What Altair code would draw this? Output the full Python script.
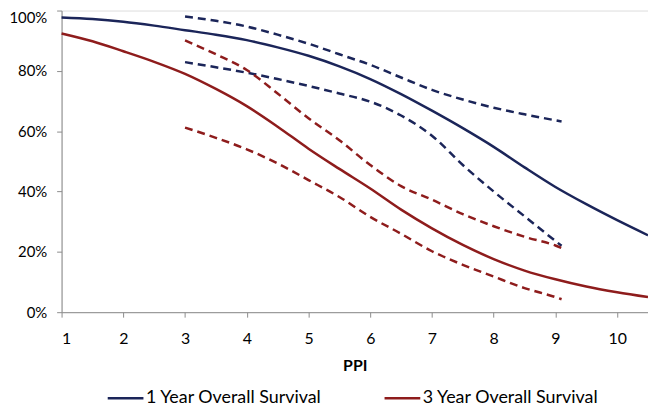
import altair as alt
import pandas as pd

# ---- data ----
series_names = ["1 Year Overall Survival", "3 Year Overall Survival"]

ppi_main = [1, 1.5, 2, 2.5, 3, 3.5, 4, 4.5, 5, 5.5, 6, 6.5, 7, 7.5, 8, 8.5, 9, 9.5, 10, 10.5]
os1_main = [97.7, 97.2, 96.3, 95.0, 93.5, 92.0, 90.2, 87.8, 85.0, 81.5, 77.3, 72.3,
            66.8, 61.0, 54.8, 48.0, 41.5, 35.8, 30.5, 25.5]
os3_main = [92.4, 89.8, 86.5, 83.0, 79.0, 74.0, 68.3, 61.5, 54.2, 47.5, 41.0, 34.0,
            27.8, 22.3, 17.6, 13.8, 10.9, 8.5, 6.6, 5.0]

ppi_ci = [3, 3.5, 4, 4.5, 5, 5.5, 6, 6.5, 7, 7.5, 8, 8.5, 9, 9.1]
os1_upper = [98.0, 96.6, 94.7, 92.0, 89.0, 85.5, 82.0, 77.8, 73.7, 70.5, 67.8, 65.6, 63.6, 63.2]
os1_lower = [82.9, 81.2, 79.4, 77.3, 75.0, 72.5, 69.8, 65.2, 58.5, 48.8, 40.0, 31.8, 23.6, 22.0]
os3_upper = [90.1, 85.5, 80.3, 72.5, 64.3, 57.0, 48.8, 41.8, 37.3, 32.5, 28.5, 25.0, 22.1, 21.3]
os3_lower = [61.2, 57.8, 54.0, 49.3, 43.8, 38.2, 31.6, 26.0, 20.2, 15.7, 11.8, 8.0, 5.0, 4.3]

y_ticks = [0, 0.2, 0.4, 0.6, 0.8, 1.0]
x_ticks = [1, 2, 3, 4, 5, 6, 7, 8, 9, 10]

navy = "#1b2559"
red = "#8e1c1c"

# ---- tables ----
main_rows = []
for name, vals in zip(series_names, [os1_main, os3_main]):
    for p, v in zip(ppi_main, vals):
        main_rows.append({"PPI": p, "surv": v / 100, "series": name})
df_main = pd.DataFrame(main_rows)

ci_rows = []
for name, band, vals in [
    (series_names[0], "1u", os1_upper),
    (series_names[0], "1l", os1_lower),
    (series_names[1], "3u", os3_upper),
    (series_names[1], "3l", os3_lower),
]:
    for p, v in zip(ppi_ci, vals):
        ci_rows.append({"PPI": p, "surv": v / 100, "ci_series": name, "band": band})
df_ci = pd.DataFrame(ci_rows)

font = "Lato"

x_enc = alt.X(
    "PPI:Q",
    scale=alt.Scale(domain=[1, 10.5], nice=False, zero=False),
    axis=alt.Axis(
        values=x_ticks,
        title="PPI",
        titleFont=font,
        titleFontSize=16,
        titleFontWeight="bold",
        titleColor="#000000",
        titleBaseline="alphabetic",
        titleY=59,
        labelFont=font,
        labelFontSize=16,
        labelColor="#000000",
        labelPadding=14,
        grid=False,
        domainColor="#8c8c8c",
        tickColor="#8c8c8c",
        tickSize=5,
    ),
)
y_enc = alt.Y(
    "surv:Q",
    scale=alt.Scale(domain=[0, 1], nice=False),
    axis=alt.Axis(
        values=y_ticks,
        format=".0%",
        title=None,
        labelFont=font,
        labelFontSize=15,
        labelColor="#000000",
        labelPadding=10,
        labelOffset={"condition": {"test": "datum.value == 1", "value": 7}, "value": 0},
        grid=False,
        domainColor="#8c8c8c",
        tickColor="#8c8c8c",
        tickSize=5,
    ),
)

solid = alt.Chart(df_main).mark_line(strokeWidth=2.5, interpolate="monotone").encode(
    x=x_enc,
    y=y_enc,
    color=alt.Color(
        "series:N",
        scale=alt.Scale(domain=series_names, range=[navy, red]),
        legend=alt.Legend(
            title=None,
            orient="none",
            direction="horizontal",
            legendX=45,
            legendY=371,
            symbolType="stroke",
            symbolSize=1296,
            symbolStrokeWidth=2.5,
            labelFont=font,
            labelFontSize=18,
            labelColor="#000000",
            labelOffset=1,
            labelLimit=400,
            columnPadding=57,
        ),
    ),
)

dashed = alt.Chart(df_ci).mark_line(
    strokeWidth=2.5, strokeDash=[8, 5], interpolate="monotone"
).encode(
    x=x_enc,
    y=y_enc,
    detail="band:N",
    stroke=alt.Stroke(
        "ci_series:N",
        scale=alt.Scale(domain=series_names, range=[navy, red]),
        legend=None,
    ),
)

chart = (
    alt.layer(solid, dashed)
    .properties(
        width=591,
        height=304,
        autosize=alt.AutoSizeParams(type="none"),
        padding={"left": 54, "top": 1, "right": 0, "bottom": 95},
    )
    .configure_view(stroke="#a6a6a6", strokeWidth=1)
    .configure(background="#ffffff")
)

chart.save("out.html", embed_options={"renderer": "svg", "actions": False})
